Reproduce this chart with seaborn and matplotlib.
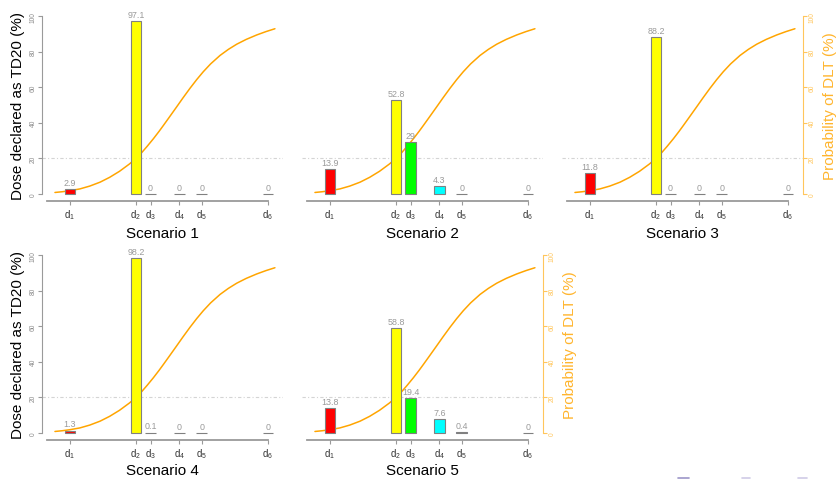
import matplotlib
matplotlib.use("Agg")
import matplotlib.pyplot as plt
import seaborn as sns
import pandas as pd
import numpy as np
from matplotlib.lines import Line2D

# ---------------- data ----------------
dose_labels = ["d1", "d2", "d3", "d4", "d5", "d6"]
dose_tick_text = [r"$\mathregular{d_{1}}$", r"$\mathregular{d_{2}}$", r"$\mathregular{d_{3}}$",
                  r"$\mathregular{d_{4}}$", r"$\mathregular{d_{5}}$", r"$\mathregular{d_{6}}$"]
dose_levels = [0.0, 0.333, 0.407, 0.553, 0.665, 1.0]
bar_colors = ["#FF0000", "#FFFF00", "#00FF00", "#00FFFF", "#0000FF", "#FF00FF"]

scenario_names = ["Scenario 1", "Scenario 2", "Scenario 3", "Scenario 4", "Scenario 5"]
scen1 = [2.9, 97.1, 0, 0, 0, 0]
scen2 = [13.9, 52.8, 29, 4.3, 0, 0]
scen3 = [11.8, 88.2, 0, 0, 0, 0]
scen4 = [1.3, 98.2, 0.1, 0, 0, 0]
scen5 = [13.8, 58.8, 19.4, 7.6, 0.4, 0]
scenario_values = [scen1, scen2, scen3, scen4, scen5]

# probability-of-DLT curve
curve_dose = [-0.076, -0.04, 0.0, 0.05, 0.10, 0.152, 0.20, 0.25, 0.30, 0.333, 0.362, 0.39,
              0.421, 0.45, 0.471, 0.50, 0.539, 0.57, 0.606, 0.64, 0.673, 0.71, 0.758, 0.80,
              0.842, 0.89, 0.943, 0.99, 1.035]
curve_pdlt = [0.8, 1.2, 1.8, 2.8, 4.4, 6.6, 9.3, 12.7, 16.8, 19.9, 23.2, 26.8,
              31.0, 35.2, 38.4, 42.9, 49.0, 53.9, 59.4, 64.3, 68.7, 73.1, 77.9, 81.3,
              84.2, 86.9, 89.4, 91.3, 92.9]

y_ticks = [0, 20, 40, 60, 80, 100]
td_target = 20

# ---------------- style ----------------
sns.set_theme(style="ticks")
plt.rcParams["font.family"] = ["Liberation Sans", "DejaVu Sans"]
plt.rcParams["mathtext.fontset"] = "custom"
plt.rcParams["mathtext.rm"] = "Liberation Sans"
plt.rcParams["mathtext.it"] = "Liberation Sans:italic"

W, H = 839, 481
fig = plt.figure(figsize=(W / 100, H / 100), dpi=100)

col_left = [42, 302, 562]
row_bottom = [202, 441]
pw, ph = 241, 192
px_per_unit = 198.0
d1_offset = 28.0
xlim = (-d1_offset / px_per_unit, (pw - d1_offset) / px_per_unit)
ylim = (-4, 104)

axis_gray = "#9a9a9a"
orange = "#FFA500"
orange_light = "#FFC65C"
bar_w = 10.7 / px_per_unit
width_param = bar_w / np.min(np.diff(dose_levels))

layout = [(0, 0), (0, 1), (0, 2), (1, 0), (1, 1)]
left_axis = [True, False, False, True, False]
right_axis = [False, False, True, False, True]
title_y = [-0.168, -0.168, -0.168, -0.158, -0.158]

for i, (r, c) in enumerate(layout):
    left = col_left[c] / W
    bottom = (H - row_bottom[r]) / H
    ax = fig.add_axes([left, bottom, pw / W, ph / H])

    df = pd.DataFrame({"dose": dose_levels, "label": dose_labels, "pct": scenario_values[i]})

    ax.axhline(td_target, color="#d4d4d4", lw=0.8, ls=(0, (3, 2, 1, 2)), zorder=1)
    sns.lineplot(x=curve_dose, y=curve_pdlt, ax=ax, color=orange, lw=1.1, sort=False, zorder=2)
    sns.barplot(data=df, x="dose", y="pct", hue="label", palette=dict(zip(dose_labels, bar_colors)),
                native_scale=True, width=width_param, errorbar=None, legend=False, saturation=1,
                edgecolor="#808080", linewidth=0.8, ax=ax, zorder=3)

    for xv, v in zip(dose_levels, scenario_values[i]):
        ax.annotate(f"{v:g}", (xv, v), xytext=(0, 1.6), textcoords="offset points",
                    ha="center", va="bottom", fontsize=6.4, color="#9a9a9a", zorder=4)

    ax.set_xlim(*xlim)
    ax.set_ylim(*ylim)
    ax.set_xticks(dose_levels)
    ax.set_xticklabels(dose_tick_text)
    ax.tick_params(axis="x", length=3, width=0.8, color=axis_gray, labelsize=7,
                   labelcolor="#333333", pad=1.2)
    ax.spines["top"].set_visible(False)
    ax.spines["right"].set_visible(False)
    ax.spines["bottom"].set_color(axis_gray)
    ax.spines["bottom"].set_linewidth(1.3)
    ax.spines["bottom"].set_bounds(-23 / px_per_unit, 1.0)
    ax.set_ylabel("")
    ax.set_xlabel(scenario_names[i], fontsize=11, color="black")
    ax.xaxis.set_label_coords(0.5, title_y[i])
    ax.xaxis.label.set_va("center")

    if right_axis[i]:
        tw = ax.twinx()
        tw.set_ylim(*ylim)
        tw.set_yticks(y_ticks)
        tw.set_yticklabels([str(t) for t in y_ticks])
        for s in ["top", "left", "bottom"]:
            tw.spines[s].set_visible(False)
        tw.spines["right"].set_visible(True)
        tw.spines["right"].set_bounds(0, 100)
        tw.spines["right"].set_color(orange_light)
        tw.spines["right"].set_linewidth(0.8)
        tw.tick_params(axis="y", left=False, labelleft=False, right=True, labelright=True,
                       length=3, width=0.8, color=orange_light,
                       labelsize=4.8, labelcolor=orange_light, pad=1.0)
        for lab in tw.get_yticklabels():
            lab.set_rotation(90)
            lab.set_va("center")
            lab.set_ha("left")
        tw.text(1.112, 0.5, "Probability of DLT (%)", transform=ax.transAxes,
                rotation=90, ha="center", va="center", fontsize=11, color="#FFB52E")

    if left_axis[i]:
        ax.set_yticks(y_ticks)
        ax.set_yticklabels([str(t) for t in y_ticks])
        ax.spines["left"].set_bounds(0, 100)
        ax.spines["left"].set_color(axis_gray)
        ax.spines["left"].set_linewidth(0.8)
        ax.tick_params(axis="y", length=3, width=0.8, color=axis_gray, labelsize=4.8,
                       labelcolor="#8a8a8a", pad=1.0)
        for lab in ax.get_yticklabels():
            lab.set_rotation(90)
            lab.set_va("center")
            lab.set_ha("right")
        ax.text(-0.0996, 0.5, "Dose declared as TD20 (%)", transform=ax.transAxes,
                rotation=90, ha="center", va="center", fontsize=11, color="black")
    else:
        ax.spines["left"].set_visible(False)
        ax.tick_params(axis="y", left=False, labelleft=False, right=False, labelright=False)

# faint leftover marks at the bottom right
for (x0, x1, col) in [(678, 689, "#9C96C8"), (742, 750, "#CFCBE6"), (798, 807, "#CFCBE6")]:
    fig.add_artist(Line2D([x0 / W, x1 / W], [1 - 479.3 / H] * 2, color=col, lw=1.2))

fig.savefig("out.png", dpi=100)
